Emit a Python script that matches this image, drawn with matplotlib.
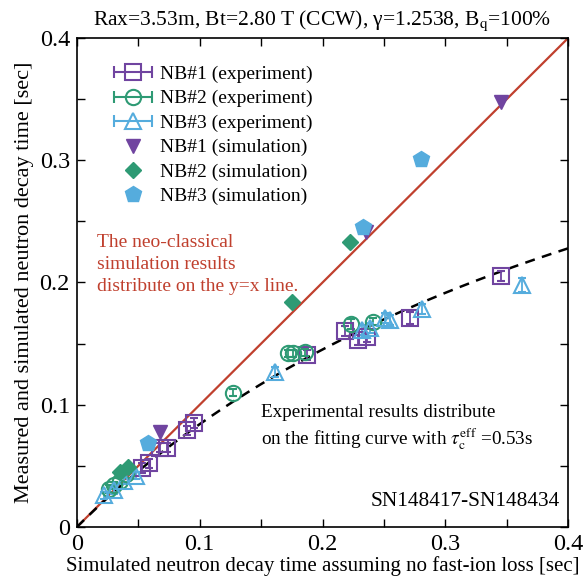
import numpy as np
import matplotlib
matplotlib.use("Agg")
from matplotlib import pyplot as plt
from matplotlib.legend_handler import HandlerErrorbar

plt.rcParams['font.family'] = ['Liberation Serif', 'DejaVu Serif']
plt.rcParams['mathtext.fontset'] = 'stix'

# NB#1 experiment
x1e = [0.053, 0.059, 0.068, 0.073, 0.090, 0.095, 0.187, 0.218, 0.229, 0.236, 0.271, 0.345]
y1e = [0.048, 0.052, 0.065, 0.065, 0.079, 0.085, 0.141, 0.160, 0.153, 0.155, 0.171, 0.205]
e1e = [0.004, 0.004, 0.004, 0.004, 0.004, 0.004, 0.004, 0.004, 0.004, 0.004, 0.005, 0.004]
# NB#2 experiment
x2e = [0.026, 0.030, 0.035, 0.040, 0.127, 0.172, 0.176, 0.186, 0.223, 0.241]
y2e = [0.031, 0.034, 0.038, 0.043, 0.110, 0.142, 0.142, 0.143, 0.166, 0.168]
e2e = [0.003, 0.003, 0.003, 0.003, 0.003, 0.003, 0.003, 0.003, 0.004, 0.003]
# NB#3 experiment
x3e = [0.022, 0.030, 0.038, 0.048, 0.161, 0.232, 0.239, 0.251, 0.255, 0.281, 0.362]
y3e = [0.026, 0.030, 0.038, 0.042, 0.127, 0.161, 0.163, 0.171, 0.169, 0.178, 0.198]
e3e = [0.003, 0.003, 0.003, 0.003, 0.004, 0.004, 0.004, 0.004, 0.004, 0.004, 0.006]
# simulations
x1s = [0.068, 0.235, 0.345]
y1s = [0.078, 0.241, 0.348]
x2s = [0.035, 0.042, 0.175, 0.222]
y2s = [0.045, 0.049, 0.184, 0.233]
x3s = [0.058, 0.233, 0.280]
y3s = [0.069, 0.245, 0.301]

tau_c = 0.53

c1 = "#7044A0"
c2 = "#2E9A74"
c3 = "#55ACDD"
cred = "#C0402E"

fig = plt.figure(figsize=(5.87, 5.84), dpi=100)
ax = fig.add_axes([0.131, 0.0976, 0.837, 0.8374])

xx = np.linspace(0, 0.4, 200)
ax.plot(xx, xx, color=cred, lw=1.6, zorder=1)
ax.plot(xx, xx * tau_c / (xx + tau_c), color="black", lw=1.8, ls=(0, (4, 3)), zorder=1)

ms = 11
ax.errorbar(x1e, y1e, yerr=e1e, fmt='s', ms=ms, mfc='none', mec=c1, mew=1.5,
            ecolor=c1, elinewidth=1.3, capsize=3, zorder=3)
ax.errorbar(x2e, y2e, yerr=e2e, fmt='o', ms=ms, mfc='none', mec=c2, mew=1.5,
            ecolor=c2, elinewidth=1.3, capsize=3, zorder=3)
ax.errorbar(x3e, y3e, yerr=e3e, fmt='^', ms=ms, mfc='none', mec=c3, mew=1.5,
            ecolor=c3, elinewidth=1.3, capsize=3, zorder=3)
ax.plot(x1s, y1s, 'v', ms=10, color=c1, ls='none', zorder=4)
ax.plot(x2s, y2s, 'D', ms=8, color=c2, ls='none', zorder=4)
ax.plot(x3s, y3s, 'p', ms=12, color=c3, ls='none', zorder=4)

# legend proxies
h1 = ax.errorbar([np.nan], [np.nan], xerr=[1], fmt='s', ms=ms, mfc='none', mec=c1, mew=1.5,
                 ecolor=c1, elinewidth=1.5, capsize=4, label="NB#1 (experiment)")
h2 = ax.errorbar([np.nan], [np.nan], xerr=[1], fmt='o', ms=ms, mfc='none', mec=c2, mew=1.5,
                 ecolor=c2, elinewidth=1.5, capsize=4, label="NB#2 (experiment)")
h3 = ax.errorbar([np.nan], [np.nan], xerr=[1], fmt='^', ms=ms, mfc='none', mec=c3, mew=1.5,
                 ecolor=c3, elinewidth=1.5, capsize=4, label="NB#3 (experiment)")
h4, = ax.plot([], [], 'v', ms=10, color=c1, ls='none', label="NB#1 (simulation)")
h5, = ax.plot([], [], 'D', ms=8, color=c2, ls='none', label="NB#2 (simulation)")
h6, = ax.plot([], [], 'p', ms=12, color=c3, ls='none', label="NB#3 (simulation)")
hm = {h: HandlerErrorbar(xerr_size=1.0) for h in (h1, h2, h3)}
ax.legend(handles=[h1, h2, h3, h4, h5, h6], handler_map=hm, loc='upper left',
          frameon=False, fontsize=14, bbox_to_anchor=(0.045, 0.968),
          handlelength=2.3, handletextpad=0.25, labelspacing=0.35, borderaxespad=0.2)

ax.set_xlim(0, 0.4)
ax.set_ylim(0, 0.4)
ax.set_xticks([0, 0.1, 0.2, 0.3, 0.4])
ax.set_yticks([0, 0.1, 0.2, 0.3, 0.4])
ax.set_xticklabels(["0", "0.1", "0.2", "0.3", "0.4"])
ax.set_yticklabels(["0", "0.1", "0.2", "0.3", "0.4"])
ax.set_xticks(np.arange(0.05, 0.4, 0.1), minor=True)
ax.set_yticks(np.arange(0.05, 0.4, 0.1), minor=True)
ax.tick_params(which='both', direction='in', top=True, right=True, length=6, width=1)
ax.tick_params(labelsize=17.5, pad=5)
for s in ax.spines.values():
    s.set_linewidth(1.2)

ax.set_xlabel("Simulated neutron decay time assuming no fast-ion loss [sec]", fontsize=15, labelpad=1)
ax.set_ylabel("Measured and simulated neutron decay time [sec]", fontsize=16, labelpad=4)
ax.set_title("Rax=3.53m, Bt=2.80 T (CCW), \u03b3=1.2538, B$_\\mathrm{q}$=100%", fontsize=15.5, pad=9)

ax.text(0.016, 0.24, "The neo-classical\nsimulation results\ndistribute on the y=x line.",
        color=cred, fontsize=14, ha='left', va='top', linespacing=1.4)
ax.text(0.15, 0.101, "Experimental results distribute\non the fitting curve with $\\tau_\\mathrm{c}^\\mathrm{eff}$ =0.53s",
        color='black', fontsize=13.8, ha='left', va='top', linespacing=1.3)
ax.text(0.393, 0.013, "SN148417-SN148434", fontsize=15.4, ha='right', va='bottom')

fig.savefig("out.png", dpi=100)
